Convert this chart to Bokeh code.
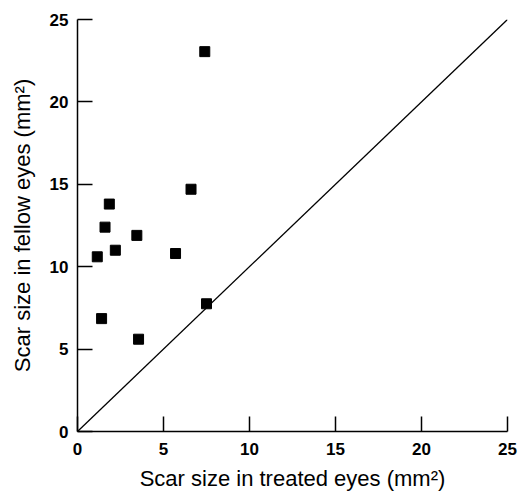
from bokeh.plotting import figure
from bokeh.models import Range1d, FixedTicker
from bokeh.embed import file_html
from bokeh.resources import INLINE

treated = [7.4, 6.6, 1.85, 1.6, 3.45, 1.15, 2.2, 5.7, 1.4, 3.55, 7.5]
fellow = [23.05, 14.7, 13.8, 12.4, 11.9, 10.6, 11.0, 10.8, 6.85, 5.6, 7.75]
diag = [0, 25]
ticks = [0, 5, 10, 15, 20, 25]

p = figure(width=519, height=493, x_range=Range1d(0, 25), y_range=Range1d(0, 25),
           output_backend="svg", toolbar_location=None,
           min_border_left=77, min_border_right=12, min_border_top=19, min_border_bottom=58)
p.outline_line_color = None
p.xgrid.visible = False
p.ygrid.visible = False
p.background_fill_color = "white"

p.line(diag, diag, line_color="black", line_width=1.3)
p.scatter(treated, fellow, marker="square", size=10, color="black")

font = "Liberation Sans"
for ax in (p.xaxis[0], p.yaxis[0]):
    ax.ticker = FixedTicker(ticks=ticks)
    ax.minor_tick_line_color = None
    ax.major_tick_in = 15
    ax.major_tick_out = 0
    ax.axis_line_width = 1.5
    ax.major_tick_line_width = 1.5
    ax.axis_line_color = "black"
    ax.major_tick_line_color = "black"
    ax.major_label_text_font = font
    ax.major_label_text_font_size = "17px"
    ax.major_label_text_font_style = "bold"
    ax.major_label_text_color = "black"
    ax.axis_label_text_font = font
    ax.axis_label_text_font_size = "22px"
    ax.axis_label_text_font_style = "normal"
    ax.axis_label_text_color = "black"

p.xaxis[0].axis_label = "Scar size in treated eyes (mm²)"
p.yaxis[0].axis_label = "Scar size in fellow eyes (mm²)"
p.xaxis[0].major_label_standoff = 11
p.yaxis[0].major_label_standoff = 9
p.xaxis[0].axis_label_standoff = 8
p.yaxis[0].axis_label_standoff = 12

open("out.html", "w").write(file_html(p, INLINE))
